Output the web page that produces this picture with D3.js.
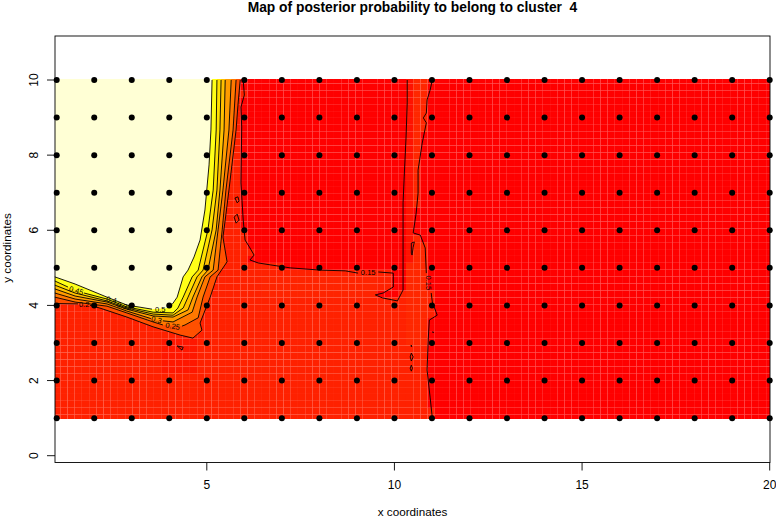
<!DOCTYPE html>
<html><head><meta charset="utf-8">
<script src="https://cdn.jsdelivr.net/npm/d3@7"></script>
<style>html,body{margin:0;padding:0;background:#fff}svg{display:block}text{font-family:"Liberation Sans",Arial,sans-serif;fill:#000;white-space:pre}</style>
</head><body><div id="c"></div>
<script>
const titleText = "Map of posterior probability to belong to cluster  4";
const xLabel = "x coordinates", yLabel = "y coordinates";
const xTicks = [5,10,15,20], yTicks = [0,2,4,6,8,10];
const sampleX = d3.range(1,21), sampleY = d3.range(1,11);

// contours, in data units; null = gap for a label
const c50 = [[5.14,10],[5.11,8.67],[5.06,7.74],[4.95,6.54],[4.82,5.74],[4.66,5.29],[4.50,4.94],[4.37,4.76],[4.21,4.22],[4.10,4.06],[3.97,3.93],null,[3.54,3.90],[2.87,4.01],[2.34,4.22],[1.49,4.57],[0.95,4.76]];
const c45 = [[5.27,10],[5.25,8.67],[5.17,7.07],[5.03,6.01],[4.77,4.94],[4.61,4.76],[4.37,4.22],[4.23,3.93],[4.10,3.80],[3.57,3.82],[2.87,3.96],[2.34,4.17],[1.73,4.33],null,[1.30,4.49],[0.95,4.65]];
const c40 = [[5.38,10],[5.35,8.67],[5.27,7.07],[5.14,6.01],[4.90,4.94],[4.74,4.76],[4.50,4.22],[4.37,3.93],[4.10,3.74],[3.57,3.77],[2.87,3.93],[2.34,4.12],[1.49,4.33],[0.95,4.54]];
const c35 = [[5.49,10],[5.46,8.67],[5.35,7.07],[5.25,6.01],[5.03,4.94],[4.87,4.76],[4.63,4.22],[4.50,3.88],[4.10,3.69],[3.57,3.72],[2.87,3.90],[2.34,4.09],[1.49,4.25],[0.95,4.44]];
const c30 = [[5.65,10],[5.59,8.67],[5.43,7.07],[5.30,6.01],[5.17,4.94],[4.95,4.76],[4.74,4.22],[4.61,3.82],[4.10,3.56],[3.83,3.59],null,[3.51,3.65],[2.87,3.85],[2.34,4.04],[1.49,4.17],[0.95,4.33]];
const c25 = [[5.78,10],[5.70,8.67],[5.51,7.07],[5.41,6.01],[5.30,4.94],[5.09,4.76],[4.90,4.22],[4.77,3.67],[4.42,3.48],[4.34,3.45],null,[3.83,3.48],[3.57,3.56],[2.87,3.80],[2.34,3.98],[1.49,4.09],[0.95,4.22]];
const c20 = [[5.89,10],[5.83,9.33],[5.78,8.67],[5.59,7.07],[5.49,6.27],[5.43,5.82],[5.54,5.16],[5.27,4.76],[5.09,4.22],[4.82,3.53],[4.87,3.34],[4.63,3.13],[4.29,3.21],[3.57,3.43],[2.87,3.69],[2.15,3.93],[1.89,4.0],null,[1.57,4.04],[0.95,4.05]];
const c15a = [[5.97,10],[6.0,9.6],[5.91,9.28],[5.93,8.75],[5.91,7.26],[5.97,6.27],[6.02,5.74],[6.15,5.53],[6.26,5.34],[6.15,5.21],[6.37,5.13],[6.69,5.08],[7.22,5.0],[8.02,4.94],[8.69,4.92],[9.03,4.86],null,[9.57,4.89],[9.97,4.86],[9.97,4.49],[9.70,4.33],[9.49,4.28],[9.68,4.2],[10.08,4.12],[10.23,4.41],[10.23,6.01],[10.23,6.73],[10.26,7.42],[10.31,8.48],[10.34,9.39],[10.34,10]];
const c15b = [[11.01,10],[10.95,9.73],[10.87,9.47],[10.85,9.12],[10.77,8.99],[10.85,8.86],[10.74,8.32],[10.63,7.6],[10.63,6.99],[10.58,6.46],[10.50,5.93],[10.69,5.87],[10.82,5.53],[10.85,4.86],null,[10.98,4.33],[11.01,4.09],[11.14,3.74],[10.93,3.61],[10.90,3.08],[10.87,2.28],[10.95,1.56],[11.01,1]];
const islands = [
  [[4.21,2.92],[4.37,2.89],[4.34,2.81],[4.21,2.92]],
  [[5.75,6.86],[5.83,6.89],[5.86,6.78],[5.81,6.73],[5.75,6.86]],
  [[5.73,6.35],[5.81,6.43],[5.86,6.27],[5.78,6.19],[5.73,6.35]],
  [[10.45,5.66],[10.53,5.69],[10.50,5.55],[10.47,5.34],[10.45,5.39],[10.45,5.66]],
  [[10.45,2.73],[10.50,2.63],[10.45,2.52],[10.42,2.63],[10.45,2.73]],
  [[10.45,2.41],[10.48,2.33],[10.45,2.25],[10.42,2.33],[10.45,2.41]],
  [[10.44,2.94],[10.47,2.92],[10.45,2.90],[10.44,2.94]],
  [[11.02,3.3],[11.04,3.29],[11.03,3.27],[11.02,3.3]]
];
const lineSets = [c50,c45,c40,c35,c30,c25,c20,c15a,c15b];
const bandSets = [c20,c25,c30,c35,c40,c45,c50];
const bandColors = ["#ff5000","#ff7800","#ff9c00","#ffc000","#ffe000","#ffff18","#ffffd5"];

const contourLabels = ["0.5","0.45","0.4","0.35","0.3","0.25","0.2","0.15","0.15"];
const labelX = [3.76,1.52,2.46,2.80,3.66,4.09,1.73,9.30,10.90];
const labelY = [3.90,4.40,4.15,3.98,3.62,3.45,4.02,4.87,4.60];
const labelAngle = [0,18,12,15,14,10,0,0,90];

// background probabilities of the cell image: regions
const baseValue = 0.17;
const patchPolys = [
  [[3.85,2.2],[4.7,2.2],[4.7,3.1],[3.85,3.1]],
  [[10.55,5.2],[10.85,5.2],[10.85,10.1],[10.55,10.1]],
  [[10.4,3.0],[10.85,3.0],[10.85,5.2],[10.4,5.2]],
  [[10.3,5.2],[10.55,5.2],[10.55,10.1],[10.3,10.1]],
  [[10.85,5.2],[11.05,5.2],[11.05,10.1],[10.85,10.1]],
  [[6.5,4.2],[9.5,4.2],[9.5,4.8],[6.5,4.8]]
];
const patchValues = [0.155,0.18,0.18,0.145,0.145,0.175];

const W=776,H=518;
const x=d3.scaleLinear().domain([1,20]).range([56.7,769.7]);
const y=d3.scaleLinear().domain([0,10]).range([455.7,80]);
const xMin=x.invert(55), yTop=y.invert(79);

const svg=d3.select("#c").append("svg").attr("width",W).attr("height",H);
svg.append("defs").append("clipPath").attr("id","img").append("rect")
  .attr("x",55).attr("y",79).attr("width",715).attr("height",340);

const heat=d3.scaleLinear().domain([0.1,0.15,0.2,0.25]).range(["#ff0000","#ff1400","#ff3400","#ff5000"]).clamp(true);
const clean=a=>a.filter(Boolean);
const redA=[[clean(c15a)[0][0],10.2],...clean(c15a),[10.34,10.2]];
const redB=[[11.01,10.2],...clean(c15b),[11.01,0.8],[20.2,0.8],[20.2,10.2]];
function cellValue(px,py){
  if(d3.polygonContains(redA,[px,py])||d3.polygonContains(redB,[px,py])) return 0.1;
  for(let i=0;i<patchPolys.length;i++) if(d3.polygonContains(patchPolys[i],[px,py])) return patchValues[i];
  return baseValue;
}
const nx=100, ny=50, dx=19/(nx-1), dy=9/(ny-1);
const cols=d3.range(nx), rows=d3.range(ny);
const gImg=svg.append("g").attr("clip-path","url(#img)");
const cells=rows.flatMap(j=>cols.map(i=>({cx:1+i*dx,cy:1+j*dy})));
gImg.selectAll("rect.c").data(cells).join("rect").attr("class","c")
  .attr("x",d=>x(d.cx-dx/2)).attr("width",d=>x(d.cx+dx/2)-x(d.cx-dx/2))
  .attr("y",d=>y(d.cy+dy/2)).attr("height",d=>y(d.cy-dy/2)-y(d.cy+dy/2))
  .attr("fill",d=>heat(cellValue(d.cx,d.cy)));

const polyLine=d3.line().x(d=>x(d[0])).y(d=>y(d[1]));
bandSets.forEach((c,i)=>{
  const pts=clean(c);
  const poly=[[pts[0][0],yTop+0.1],...pts,[xMin-0.1,pts[pts.length-1][1]],[xMin-0.1,yTop+0.1]];
  gImg.append("path").attr("d",polyLine(poly)+"Z").attr("fill",bandColors[i]);
});

const dashLine=d3.line().defined(d=>d!==null).x(d=>x(d[0])).y(d=>y(d[1]));
const gC=svg.append("g").attr("fill","none").attr("stroke","#000").attr("stroke-width",0.9);
lineSets.forEach(c=>gC.append("path").attr("d",dashLine(c)));
islands.forEach(c=>gC.append("path").attr("d",dashLine(c)));

contourLabels.forEach((t,i)=>{
  svg.append("text").attr("text-anchor","middle").attr("font-size",7.5)
    .attr("transform",`translate(${x(labelX[i])},${y(labelY[i])}) rotate(${labelAngle[i]})`)
    .attr("dy","0.35em").text(t);
});

const pts=sampleY.flatMap(b=>sampleX.map(a=>[a,b]));
svg.append("g").selectAll("circle").data(pts).join("circle")
  .attr("cx",d=>x(d[0])).attr("cy",d=>y(d[1])).attr("r",3).attr("fill","#000");

// box and axes
svg.append("rect").attr("x",55).attr("y",36).attr("width",715).attr("height",426.5)
  .attr("fill","none").attr("stroke","#000").attr("stroke-width",0.9);
const ax=svg.append("g").attr("transform","translate(0,462.5)")
  .call(d3.axisBottom(x).tickValues(xTicks).tickSize(8).tickPadding(10).tickFormat(d3.format("d")).offset(0));
const ay=svg.append("g").attr("transform","translate(55,0)")
  .call(d3.axisLeft(y).tickValues(yTicks).tickSize(8).tickFormat(d3.format("d")).offset(0));
[ax,ay].forEach(a=>{a.select(".domain").remove();
  a.selectAll("line").attr("stroke","#000").attr("stroke-width",0.9);
  a.selectAll("text").attr("font-size",12).attr("font-family",'"Liberation Sans",Arial,sans-serif').attr("fill","#000");});
ay.selectAll("text").attr("text-anchor","middle").attr("x",0).attr("y",0).attr("dy",0)
  .attr("transform","translate(-17,0) rotate(-90)");

svg.append("text").attr("x",412.5).attr("y",11.5).attr("text-anchor","middle").attr("font-size",13.8).attr("font-weight","bold").text(titleText);
svg.append("text").attr("x",412.5).attr("y",515.5).attr("text-anchor","middle").attr("font-size",11.7).text(xLabel);
svg.append("text").attr("text-anchor","middle").attr("font-size",11.7).attr("transform","translate(11,248) rotate(-90)").text(yLabel);
</script></body></html>
